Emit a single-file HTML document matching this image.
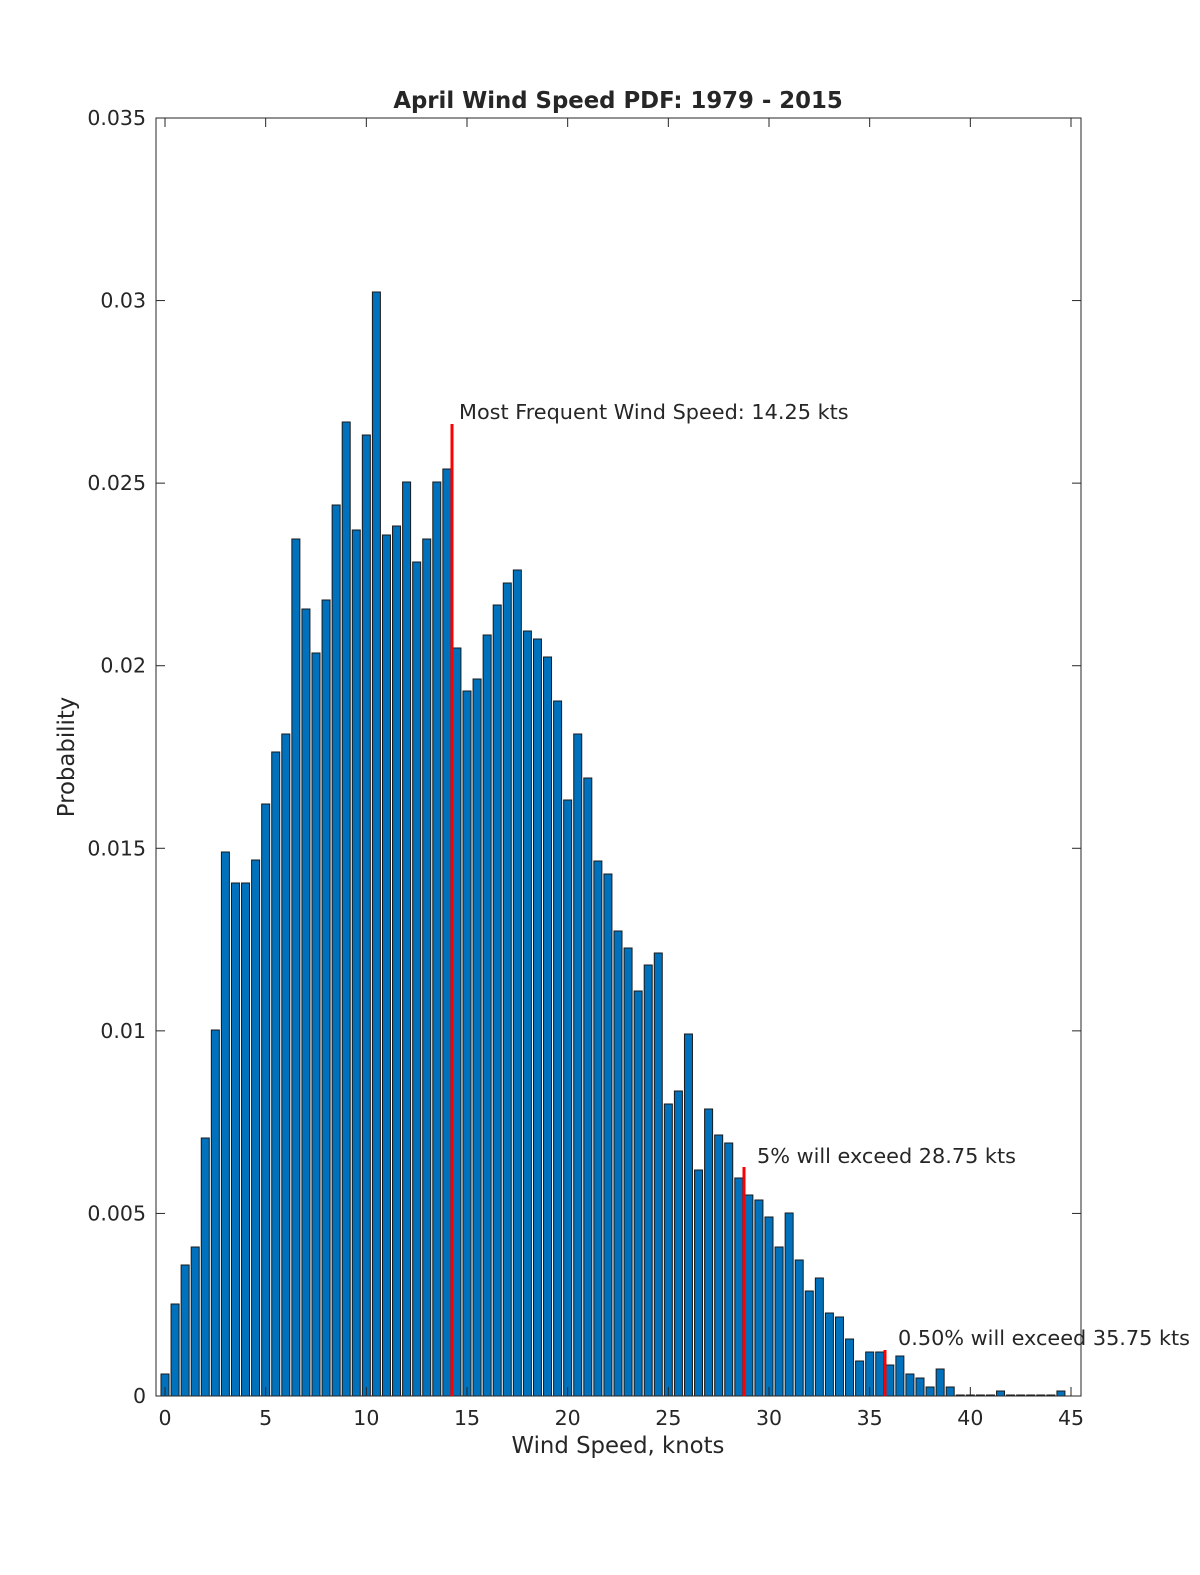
<!DOCTYPE html>
<html><head><meta charset="utf-8"><style>html,body{margin:0;padding:0;overflow:hidden;width:1200px;height:1575px;background:#fff}svg{display:block}text{font-family:"DejaVu Sans","Liberation Sans",sans-serif;fill:#262626}</style></head>
<body>
<svg id="s" width="1200" height="1575" viewBox="0 0 1200 1575" xmlns="http://www.w3.org/2000/svg">
<rect width="1200" height="1575" fill="#fff"/>
<g id="bars"></g>
<rect x="156" y="118" width="925" height="1278" fill="none" stroke="#262626" stroke-width="1"/>
<g id="ticks" stroke="#262626" stroke-width="1"></g>
<g id="lbl" font-size="20.5"></g>
<text x="618" y="108" font-size="22.8" font-weight="bold" text-anchor="middle" fill="#000">April Wind Speed PDF: 1979 - 2015</text>
<text x="618" y="1453" font-size="22.8" text-anchor="middle">Wind Speed, knots</text>
<text transform="translate(74,757) rotate(-90)" font-size="22.8" text-anchor="middle">Probability</text>
<rect x="450.5" y="424" width="3" height="972" fill="#ff0000"/>
<rect x="742.5" y="1167" width="3" height="229" fill="#ff0000"/>
<rect x="883.5" y="1350" width="3" height="46" fill="#ff0000"/>
<text x="459" y="419" font-size="20.8" fill="#000">Most Frequent Wind Speed: 14.25 kts</text>
<text x="757" y="1163" font-size="20.8" fill="#000">5% will exceed 28.75 kts</text>
<text x="898" y="1345" font-size="20.8" fill="#000">0.50% will exceed 35.75 kts</text>
</svg>
<script>
var tops=[1374,1304,1265,1247,1138,1030,852,883,883,860,804,752,734,539,609,653,600,505,422,530,435,292,535,526,482,562,539,482,469,648,691,679,635,605,583,570,631,639,657,701,800,734,778,861,874,931,948,991,965,953,1104,1091,1034,1170,1109,1135,1143,1178,1195,1200,1217,1247,1213,1260,1291,1278,1313,1317,1339,1361,1352,1352,1365,1356,1374,1378,1387,1369,1387,1395,1395,1395,1395,1391,1395,1395,1395,1395,1395,1391];
var ns="http://www.w3.org/2000/svg",px=906/45,b=document.getElementById("bars"),t=document.getElementById("ticks"),l=document.getElementById("lbl");
function el(p,n,a,tx){var e=document.createElementNS(ns,n);for(var k in a)e.setAttribute(k,a[k]);if(tx!=null)e.textContent=tx;p.appendChild(e);}
tops.forEach(function(y,i){var cx=165+i*0.5*px;var h=1396-y;if(h<0.5)h=0.5;el(b,"rect",{x:cx-4,y:1396-h,width:8,height:h,fill:"#0072bd",stroke:"#1a1a1a","stroke-width":1});});
for(var k=0;k<=9;k++){var x=165+k*5*px;el(t,"line",{x1:x,y1:1396,x2:x,y2:1387});el(t,"line",{x1:x,y1:118,x2:x,y2:127});el(l,"text",{x:x,y:1425,"text-anchor":"middle"},String(k*5));}
var yl=["0","0.005","0.01","0.015","0.02","0.025","0.03","0.035"];
for(var k=0;k<=7;k++){var y=1396-k*1278/7;el(t,"line",{x1:156,y1:y,x2:165,y2:y});el(t,"line",{x1:1081,y1:y,x2:1072,y2:y});el(l,"text",{x:146,y:y+7,"text-anchor":"end"},yl[k]);}
</script>
</body></html>
